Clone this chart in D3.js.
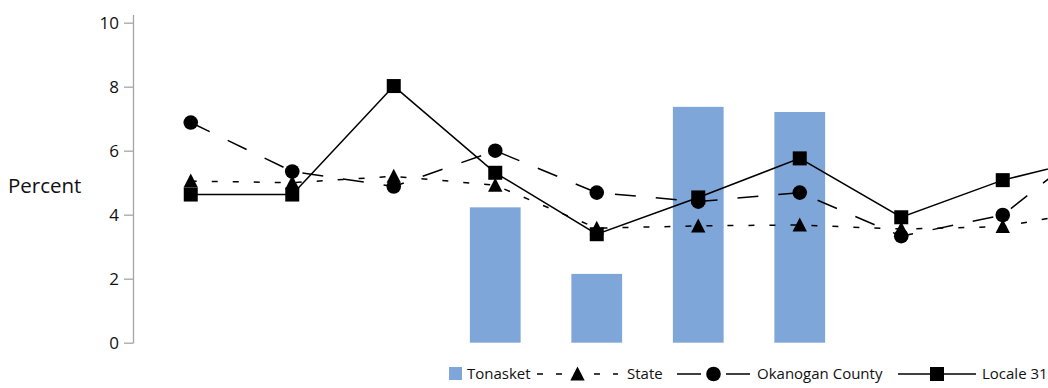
<!DOCTYPE html>
<html lang="en">
	<head>
		<meta charset="utf-8">
		<title>Tonasket vs State, County, Locale</title>
		<script src="https://cdn.jsdelivr.net/npm/d3@7"></script>
		<style>
			body {
				margin: 0;
				background-color: #ffffff;
				font-family: "Open Sans", sans-serif;
			}
		</style>
	</head>
	<body>
		<script>

			//Width and height
			var w = 1048;
			var h = 388;

			//Chart data (percent)
			var categories = ["1", "2", "3", "4", "5", "6", "7", "8", "9", "10"];
			var tonasket = [null, null, null, 4.23, 2.15, 7.37, 7.21, null, null, null];
			var state    = [5.05, 5.0, 5.2, 4.92, 3.58, 3.65, 3.68, 3.55, 3.63, 4.2];
			var okanogan = [6.88, 5.35, 4.88, 6.0, 4.69, 4.41, 4.69, 3.33, 3.99, 6.5];
			var locale31 = [4.63, 4.63, 8.02, 5.31, 3.39, 4.54, 5.76, 3.92, 5.08, 5.86];
			var yTicks = [0, 2, 4, 6, 8, 10];

			var svg = d3.select("body")
						.append("svg")
						.attr("width", w)
						.attr("height", h);

			//Scales
			var xScale = d3.scaleBand()
						   .domain(categories)
						   .range([140, 1155])
						   .paddingInner(0.5)
						   .paddingOuter(0.25);

			var yScale = d3.scaleLinear()
						   .domain([0, 10])
						   .range([342.7, 22.7]);

			var cx = function(i) {
				return xScale(categories[i]) + xScale.bandwidth() / 2;
			};

			//Y axis
			var yAxis = d3.axisLeft(yScale)
						  .tickValues(yTicks)
						  .tickSize(9)
						  .tickPadding(5);

			var gy = svg.append("g")
						.attr("transform", "translate(133,0)")
						.call(yAxis);
			gy.select(".domain")
			  .attr("d", "M0.5,15V343.5")
			  .attr("stroke", "#a6a6a6")
			  .attr("stroke-width", 1.3);
			gy.selectAll(".tick line").attr("stroke", "#a6a6a6").attr("stroke-width", 1.3);
			gy.selectAll(".tick text")
			  .attr("fill", "#111")
			  .style("font-size", "17px")
			  .style("font-family", "'Open Sans', sans-serif");

			svg.append("text")
			   .attr("x", 8)
			   .attr("y", 193)
			   .attr("fill", "#111")
			   .style("font-size", "20.5px")
			   .text("Percent");

			//Bars
			svg.selectAll("rect.bar")
			   .data(tonasket)
			   .enter()
			   .filter(function(d) { return d != null; })
			   .append("rect")
			   .attr("class", "bar")
			   .attr("x", function(d, i) { return xScale(categories[tonasket.indexOf(d)]); })
			   .attr("y", function(d) { return yScale(d); })
			   .attr("width", xScale.bandwidth())
			   .attr("height", function(d) { return yScale(0) - yScale(d); })
			   .attr("fill", "#7ea6d8");

			//Line series
			var series = [
				{ name: "Locale 31", values: locale31, dash: null, legendDash: null, marker: "square" },
				{ name: "Okanogan County", values: okanogan, dash: "21,20", legendDash: "24,25", marker: "circle" },
				{ name: "State", values: state, dash: "6,15", legendDash: "6,13", marker: "triangle" }
			];

			var line = d3.line()
						 .x(function(d, i) { return cx(i); })
						 .y(function(d) { return yScale(d); });

			var drawMarker = function(g, type, x, y) {
				if (type == "square") {
					g.append("rect")
					 .attr("x", x - 7).attr("y", y - 7)
					 .attr("width", 14).attr("height", 14)
					 .attr("fill", "#000");
				} else if (type == "circle") {
					g.append("circle")
					 .attr("cx", x).attr("cy", y).attr("r", 7.3)
					 .attr("fill", "#000");
				} else {
					g.append("path")
					 .attr("d", "M" + x + "," + (y - 7.5) + "L" + (x + 7.2) + "," + (y + 6.5) + "L" + (x - 7.2) + "," + (y + 6.5) + "Z")
					 .attr("fill", "#000");
				}
			};

			series.forEach(function(s) {
				svg.append("path")
				   .datum(s.values)
				   .attr("d", line)
				   .attr("fill", "none")
				   .attr("stroke", "#000")
				   .attr("stroke-width", 1.5)
				   .attr("stroke-dasharray", s.dash);
			});

			series.forEach(function(s) {
				var g = svg.append("g");
				s.values.forEach(function(v, i) {
					drawMarker(g, s.marker, cx(i), yScale(v));
				});
			});

			//Legend
			var legend = svg.append("g").style("font-size", "15px").attr("fill", "#111");
			var ly = 374;

			legend.append("rect")
				  .attr("x", 449).attr("y", ly - 7)
				  .attr("width", 13).attr("height", 13)
				  .attr("fill", "#7ea6d8");
			legend.append("text").attr("x", 467).attr("y", ly + 5).text("Tonasket");

			var legendLines = [
				{ s: series[2], x1: 537, x2: 618, tx: 627 },
				{ s: series[1], x1: 677, x2: 750, tx: 757 },
				{ s: series[0], x1: 898, x2: 976, tx: 982 }
			];

			legendLines.forEach(function(l) {
				legend.append("line")
					  .attr("x1", l.x1).attr("x2", l.x2)
					  .attr("y1", ly).attr("y2", ly)
					  .attr("stroke", "#000")
					  .attr("stroke-width", 1.5)
					  .attr("stroke-dasharray", l.s.legendDash);
				drawMarker(legend, l.s.marker, (l.x1 + l.x2) / 2, ly);
				legend.append("text").attr("x", l.tx).attr("y", ly + 5).text(l.s.name);
			});

		</script>
	</body>
</html>
